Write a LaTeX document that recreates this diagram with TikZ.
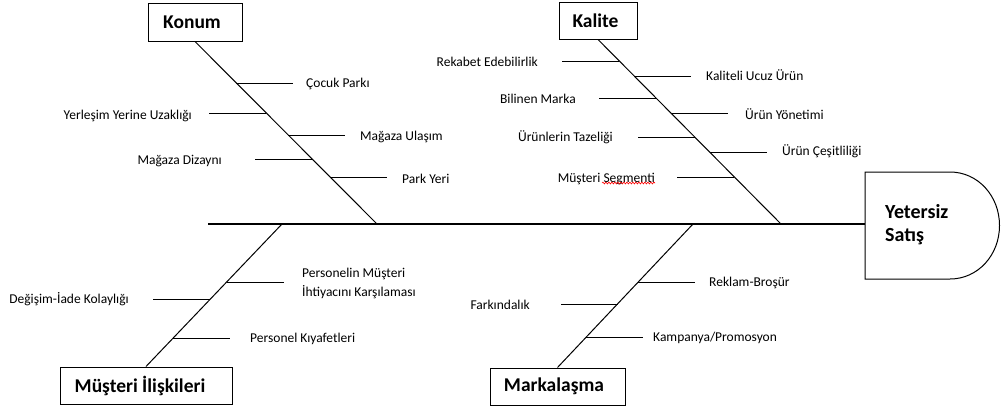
\documentclass[tikz,border=0pt]{standalone}
\usepackage{fontspec}
\setmainfont{Carlito}
\usetikzlibrary{calc,decorations.pathmorphing}
\begin{document}
\begin{tikzpicture}[x=1pt,y=-1pt,
  branch/.style={line width=1pt},
  spine/.style={line width=1pt},
  mainline/.style={line width=2.4pt},
  catbox/.style={draw, line width=1pt, inner sep=0pt, minimum height=37pt,
    font=\bfseries\fontsize{19.5}{22}\selectfont},
  lbl/.style={inner sep=0pt, font=\fontsize{13.5}{19}\selectfont},
  efflbl/.style={inner sep=0pt, align=left, font=\bfseries\fontsize{20}{23}\selectfont}]
\useasboundingbox (0,0) rectangle (1001,410);

% category boxes
\node[catbox, minimum width=94pt, minimum height=38pt] (konum) at (195,22) {\hspace*{-6pt}Konum};
\node[catbox, minimum width=78pt] (kalite) at (598,20.5) {\hspace*{-5pt}Kalite};
\node[catbox, minimum width=172pt] (musteri) at (146,385.5) {\hspace*{-12pt}Müşteri İlişkileri};
\node[catbox, minimum width=135pt] (marka) at (557.5,386.5) {\hspace*{-7pt}Markalaşma};

% effect shape
\draw[line width=1pt] (865,172) -- (950,172)
  .. controls (978,172) and (999.5,196) .. (999.5,225.5)
  .. controls (999.5,255) and (978,279) .. (950,279) -- (865,279) -- cycle;
\coordinate (eff) at (865,224);
\node[efflbl, anchor=west] (effect) at (885,224.5) {Yetersiz\\Satış};

% main line and spines
\coordinate (tail) at (208,224);
\coordinate (ks) at (377,224);
\coordinate (qs) at (781,224);
\coordinate (ms) at (282,224);
\coordinate (bs) at (693,224);
\draw[mainline] (tail) -- (eff);
\draw[spine] (konum.south) -- (ks);
\draw[spine] (kalite.south) -- (qs);
\draw[spine] (musteri.north) -- (ms);
\draw[spine] (marka.north) -- (bs);

% branches
\foreach \sp/\ep/\y/\d in {
  konum.south/ks/83/57, konum.south/ks/113/-57, konum.south/ks/135/57,
  konum.south/ks/159/-57, konum.south/ks/177/57,
  kalite.south/qs/61/-57, kalite.south/qs/76/57, kalite.south/qs/98/-57,
  kalite.south/qs/113/57, kalite.south/qs/137/-57, kalite.south/qs/152/57,
  kalite.south/qs/177/-57,
  musteri.north/ms/282/57, musteri.north/ms/299/-57, musteri.north/ms/338/57,
  marka.north/bs/282/57, marka.north/bs/304/-57, marka.north/bs/337/57}
  \draw[branch] (intersection cs: first line={(\sp)--(\ep)}, second line={(0,\y)--(10,\y)}) -- ++(\d,0);

% labels: Konum
\node[lbl, anchor=west] (l1) at (306,84) {Çocuk Parkı};
\node[lbl, anchor=east] (l2) at (192,115.5) {Yerleşim Yerine Uzaklığı};
\node[lbl, anchor=west] (l3) at (360,137) {Mağaza Ulaşım};
\node[lbl, anchor=east] (l4) at (222,161) {Mağaza Dizaynı};
\node[lbl, anchor=west] (l5) at (402,179) {Park Yeri};
% labels: Kalite
\node[lbl, anchor=east] (q1) at (538,61.5) {Rekabet Edebilirlik};
\node[lbl, anchor=west] (q2) at (706,75.5) {Kaliteli Ucuz Ürün};
\node[lbl, anchor=east] (q3) at (576,98.5) {Bilinen Marka};
\node[lbl, anchor=west] (q4) at (745,114) {Ürün Yönetimi};
\node[lbl, anchor=east] (q5) at (613,137) {Ürünlerin Tazeliği};
\node[lbl, anchor=west] (q6) at (782,151) {Ürün Çeşitliliği};
\node[lbl, anchor=east] (seg) at (655,178.5) {Müşteri Segmenti};
\draw[red, line width=0.6pt, decorate, decoration={snake, amplitude=0.9pt, segment length=3pt}]
  ($(seg.south east)+(-53,-1.5)$) -- ($(seg.south east)+(0,-1.5)$);
% labels: Musteri Iliskileri
\node[lbl, anchor=west, align=left] (m1) at (302,283.5) {Personelin Müşteri\\İhtiyacını Karşılaması};
\node[lbl, anchor=east] (m2) at (129,299.5) {Değişim-İade Kolaylığı};
\node[lbl, anchor=west] (m3) at (250,339) {Personel Kıyafetleri};
% labels: Markalasma
\node[lbl, anchor=west] (b1) at (709,283) {Reklam-Broşür};
\node[lbl, anchor=east] (b2) at (530,305) {Farkındalık};
\node[lbl, anchor=west] (b3) at (653,338) {Kampanya/Promosyon};
\end{tikzpicture}
\end{document}
